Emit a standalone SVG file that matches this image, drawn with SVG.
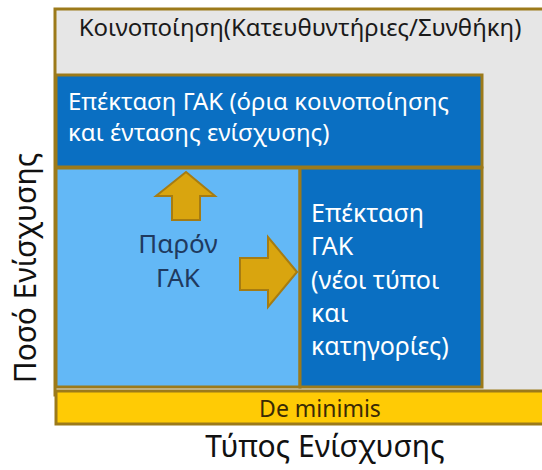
<svg xmlns="http://www.w3.org/2000/svg" width="542" height="470" viewBox="0 0 542 470">
<style>
.t{font-family:"Noto Sans","Open Sans",sans-serif}
.box{stroke:#9c7a1a;stroke-width:3}
.arrow{fill:#d9a50f;stroke:#a67c12;stroke-width:2}
.w{fill:#ffffff}
</style>
<rect width="542" height="470" fill="#ffffff"/>
<g id="notification">
<rect class="box" x="55" y="9" width="500" height="386" fill="#e6e6e6"/>
<text class="t" x="300" y="36" font-size="24" text-anchor="middle" fill="#1a1a1a">Κοινοποίηση(Κατευθυντήριες/Συνθήκη)</text>
</g>
<g id="ext-top">
<rect class="box" x="56" y="75" width="426" height="92" fill="#0a6fc2"/>
<text class="t w" font-size="24"><tspan x="68" y="110">Επέκταση ΓΑΚ (όρια κοινοποίησης</tspan><tspan x="68" y="141">και έντασης ενίσχυσης)</tspan></text>
</g>
<g id="current">
<rect class="box" x="56" y="168" width="244" height="219" fill="#63b8f6"/>
<text class="t" font-size="26" fill="#1f3a5f" text-anchor="middle"><tspan x="178" y="253">Παρόν</tspan><tspan x="178" y="287">ΓΑΚ</tspan></text>
</g>
<g id="ext-right">
<rect class="box" x="300" y="168" width="182" height="219" fill="#0a6fc2"/>
<text class="t w" font-size="25"><tspan x="311" y="222">Επέκταση</tspan><tspan x="311" y="255">ΓΑΚ</tspan><tspan x="311" y="289">(νέοι τύποι</tspan><tspan x="311" y="322">και</tspan><tspan x="311" y="355">κατηγορίες)</tspan></text>
</g>
<g id="deminimis">
<rect class="box" x="56" y="391" width="500" height="33" fill="#ffcb05"/>
<text class="t" x="320" y="417" font-size="23" text-anchor="middle" fill="#3a2a05">De minimis</text>
</g>
<g id="connectors">
<polygon class="arrow" points="186,172 215,196 200,196 200,220 172,220 172,196 156,196"/>
<polygon class="arrow" points="297,272 268,237 268,258 240,258 240,290 268,290 268,307"/>
</g>
<g id="axes">
<text class="t" x="325" y="457" font-size="30" text-anchor="middle" fill="#111">Τύπος Ενίσχυσης</text>
<text class="t" transform="translate(36,268) rotate(-90)" x="0" y="0" font-size="30" text-anchor="middle" fill="#111">Ποσό Ενίσχυσης</text>
</g>
</svg>
